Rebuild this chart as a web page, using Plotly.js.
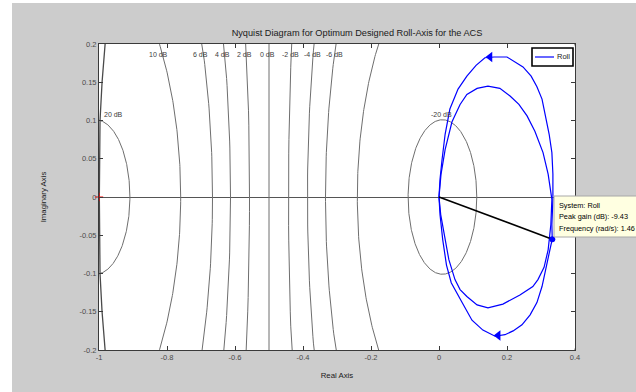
<!DOCTYPE html>
<html>
<head>
<meta charset="utf-8">
<script src="https://cdn.plot.ly/plotly-3.0.1.min.js"></script>
<style>
  html, body { margin: 0; padding: 0; background: #ffffff; }
  #chart { width: 636px; height: 392px; }
</style>
</head>
<body>
<div id="chart"></div>
<script>
// Nyquist response of the roll loop: outer and inner branches (real, imaginary)
const outerRe = [0, 0.003, 0.009, 0.018, 0.032, 0.056, 0.082, 0.109, 0.135, 0.162, 0.200, 0.226, 0.247, 0.271, 0.288, 0.303, 0.312, 0.324, 0.332, 0.335, 0.335, 0.332, 0.333, 0.326, 0.315, 0.303, 0.288, 0.268, 0.244, 0.218, 0.194, 0.165, 0.129, 0.097, 0.068, 0.036, 0.022, 0.011, 0.003, 0];
const outerIm = [0, 0.023, 0.049, 0.082, 0.115, 0.141, 0.158, 0.172, 0.182, 0.183, 0.183, 0.176, 0.170, 0.158, 0.144, 0.128, 0.108, 0.082, 0.058, 0.030, -0.003, -0.036, -0.055, -0.069, -0.095, -0.117, -0.138, -0.154, -0.167, -0.175, -0.180, -0.182, -0.174, -0.161, -0.138, -0.112, -0.089, -0.056, -0.023, 0];
const innerRe = [0, 0.006, 0.018, 0.038, 0.062, 0.082, 0.112, 0.144, 0.179, 0.209, 0.235, 0.259, 0.282, 0.306, 0.321, 0.332, 0.329, 0.321, 0.309, 0.291, 0.276, 0.238, 0.188, 0.144, 0.112, 0.082, 0.062, 0.047, 0.029, 0.015, 0.005, 0];
const innerIm = [0, 0.030, 0.062, 0.098, 0.121, 0.134, 0.142, 0.145, 0.142, 0.132, 0.121, 0.106, 0.086, 0.058, 0.030, -0.003, -0.036, -0.069, -0.092, -0.108, -0.117, -0.128, -0.140, -0.145, -0.141, -0.130, -0.121, -0.108, -0.082, -0.049, -0.023, 0];

// direction arrows on the outer branch
const arrowRe = [0.150, 0.174];
const arrowIm = [0.183, -0.181];

// peak-gain data tip
const systemName = 'Roll';
const peakGainDb = -9.43;
const peakFreq = 1.46;
const peakPhaseDeg = -9.4;

// constant-gain (M) circle levels and their labels
const mLevelsDb = [20, 10, 6, 4, 2, 0, -2, -4, -6, -10, -20];
const topLabelLevels = [10, 6, 4, 2, 0, -2, -4, -6];

// far-left contour segment near the critical point
const edgeRe = [-0.982, -0.991, -0.997, -0.999, -0.997, -0.991, -0.982];
const edgeIm = [0.2, 0.15, 0.1, 0, -0.1, -0.15, -0.2];

// critical point
const critRe = [-1];
const critIm = [0];

// axis ticks
const xTickVals = [-1, -0.8, -0.6, -0.4, -0.2, 0, 0.2, 0.4];
const xTickText = ['-1', '-0.8', '-0.6', '-0.4', '-0.2', '0', '0.2', '0.4'];
const yTickVals = [0.2, 0.15, 0.1, 0.05, 0, -0.05, -0.1, -0.15, -0.2];
const yTickText = ['0.2', '0.15', '0.1', '0.05', '0', '-0.05', '-0.1', '-0.15', '-0.2'];

const FONT = 'Liberation Sans, Arial, Helvetica, sans-serif';
const GRID = '#6e6e6e';
const BLUE = '#0000ff';

// pixel helpers for items placed in the figure margins
const PX = v => (v - 99) / 476;
const PY = v => (350 - v) / 306;

// M-circle geometry for a gain level in dB
function mCircle(db) {
  const m = Math.pow(10, db / 20);
  if (db === 0) return { line: true };
  const k = m * m - 1;
  return { c: -m * m / k, r: Math.abs(m / k) };
}

const traces = [];

mLevelsDb.forEach(db => {
  const g = mCircle(db);
  let xs = [], ys = [];
  if (g.line) {
    xs = [-0.5, -0.5];
    ys = [-1, 1];
  } else {
    for (let i = 0; i <= 720; i++) {
      const t = (i / 720) * 2 * Math.PI;
      xs.push(g.c + g.r * Math.cos(t));
      ys.push(g.r * Math.sin(t));
    }
  }
  traces.push({
    x: xs, y: ys, type: 'scatter', mode: 'lines',
    line: { color: GRID, width: 1 }, hoverinfo: 'skip', showlegend: false
  });
});

traces.push({
  x: edgeRe, y: edgeIm, type: 'scatter', mode: 'lines',
  line: { color: '#4a4a4a', width: 1.3 }, hoverinfo: 'skip', showlegend: false
});

traces.push({
  x: outerRe, y: outerIm, type: 'scatter', mode: 'lines', name: systemName,
  line: { color: BLUE, width: 1.2 }, showlegend: false
});
traces.push({
  x: innerRe, y: innerIm, type: 'scatter', mode: 'lines', name: systemName,
  line: { color: BLUE, width: 1.2 }, showlegend: false
});
traces.push({
  x: arrowRe, y: arrowIm, type: 'scatter', mode: 'markers',
  marker: { symbol: 'triangle-left', size: 9, color: BLUE }, showlegend: false
});

// peak gain point from its magnitude and phase
const peakMag = Math.pow(10, peakGainDb / 20);
const peakRe = peakMag * Math.cos(peakPhaseDeg * Math.PI / 180);
const peakIm = peakMag * Math.sin(peakPhaseDeg * Math.PI / 180);

traces.push({
  x: [0, peakRe], y: [0, peakIm], type: 'scatter', mode: 'lines',
  line: { color: '#000000', width: 1.6 }, hoverinfo: 'skip', showlegend: false
});
traces.push({
  x: [peakRe], y: [peakIm], type: 'scatter', mode: 'markers',
  marker: { color: BLUE, size: 6 }, cliponaxis: false, showlegend: false
});
traces.push({
  x: critRe, y: critIm, type: 'scatter', mode: 'markers',
  marker: { symbol: 'cross-thin', size: 6, line: { color: '#ff0000', width: 1 } },
  cliponaxis: false, hoverinfo: 'skip', showlegend: false
});

const annotations = [];

// gain labels along the top edge, at each circle's crossing of Im = 0.2
topLabelLevels.forEach(db => {
  const g = mCircle(db);
  let xAt;
  if (g.line) xAt = -0.5;
  else {
    const dx = Math.sqrt(g.r * g.r - 0.04);
    xAt = db > 0 ? g.c + dx : g.c - dx;
  }
  annotations.push({
    x: xAt - 0.004, y: 0.186, xref: 'x', yref: 'y', text: db + ' dB',
    showarrow: false, font: { family: FONT, size: 7, color: '#3c3c3c' },
    xanchor: 'center', yanchor: 'middle'
  });
});
annotations.push({
  x: -0.992, y: 0.108, xref: 'x', yref: 'y', text: '20 dB', showarrow: false,
  font: { family: FONT, size: 7, color: '#3c3c3c' }, xanchor: 'left', yanchor: 'middle'
});
annotations.push({
  x: 0.008, y: 0.108, xref: 'x', yref: 'y', text: '-20 dB', showarrow: false,
  font: { family: FONT, size: 7, color: '#3c3c3c' }, xanchor: 'center', yanchor: 'middle'
});

// data tip text
const tipLines = [
  'System: ' + systemName,
  'Peak gain (dB): ' + peakGainDb.toFixed(2),
  'Frequency (rad/s): ' + peakFreq.toFixed(2)
];
const tipY = [PY(205), PY(216.5), PY(228)];
tipLines.forEach((t, i) => {
  annotations.push({
    x: PX(557), y: tipY[i], xref: 'paper', yref: 'paper', text: t, showarrow: false,
    font: { family: FONT, size: 7.3, color: '#000000' }, xanchor: 'left', yanchor: 'middle'
  });
});

// legend entry
annotations.push({
  x: PX(555), y: PY(57), xref: 'paper', yref: 'paper', text: systemName, showarrow: false,
  font: { family: FONT, size: 7.5, color: '#1a1a1a' }, xanchor: 'left', yanchor: 'middle'
});

const shapes = [
  // white strips along the left and top edges of the figure
  { type: 'rect', xref: 'paper', yref: 'paper', x0: -0.25, x1: PX(12), y0: -0.2, y1: 1.2,
    fillcolor: '#ffffff', line: { width: 0 }, layer: 'below' },
  { type: 'rect', xref: 'paper', yref: 'paper', x0: -0.25, x1: 1.2, y0: PY(3), y1: 1.2,
    fillcolor: '#ffffff', line: { width: 0 }, layer: 'below' },
  // data tip box
  { type: 'rect', xref: 'paper', yref: 'paper', x0: PX(554), x1: PX(640), y0: PY(237), y1: PY(196),
    fillcolor: '#ffffe1', line: { color: '#a8a8a8', width: 1 }, layer: 'above' },
  // legend box and line sample
  { type: 'rect', xref: 'paper', yref: 'paper', x0: PX(532), x1: PX(573), y0: PY(66), y1: PY(48),
    fillcolor: '#ffffff', line: { color: '#000000', width: 1.6 }, layer: 'above' },
  { type: 'line', xref: 'paper', yref: 'paper', x0: PX(535), x1: PX(554), y0: PY(57), y1: PY(57),
    line: { color: BLUE, width: 1.2 }, layer: 'above' }
];

const axisCommon = {
  showgrid: false, showline: true, linecolor: '#3a3a3a', linewidth: 1, mirror: 'ticks',
  ticks: 'inside', ticklen: 4, tickcolor: '#3a3a3a', tickwidth: 1,
  tickfont: { family: FONT, size: 7.5, color: '#4a4a4a' }, fixedrange: true
};

const layout = {
  width: 636, height: 392,
  margin: { l: 99, r: 61, t: 44, b: 42 },
  paper_bgcolor: '#cccccc', plot_bgcolor: '#ffffff',
  title: {
    text: 'Nyquist Diagram for Optimum Designed Roll-Axis for the ACS',
    font: { family: FONT, size: 9.2, color: '#1a1a1a' },
    x: PX(357), xref: 'paper', xanchor: 'center',
    y: 1 - 33 / 392, yref: 'container', yanchor: 'middle'
  },
  xaxis: Object.assign({}, axisCommon, {
    range: [-1, 0.4], tickvals: xTickVals, ticktext: xTickText, zeroline: false,
    title: { text: 'Real Axis', font: { family: FONT, size: 7.8, color: '#1a1a1a' }, standoff: 11 }
  }),
  yaxis: Object.assign({}, axisCommon, {
    range: [-0.2, 0.2], tickvals: yTickVals, ticktext: yTickText,
    zeroline: true, zerolinecolor: '#555555', zerolinewidth: 1,
    title: { text: 'Imaginary Axis', font: { family: FONT, size: 7.8, color: '#1a1a1a' }, standoff: 31 }
  }),
  showlegend: false,
  annotations: annotations,
  shapes: shapes,
  hovermode: false
};

Plotly.newPlot('chart', traces, layout, { displayModeBar: false, staticPlot: true });
</script>
</body>
</html>
